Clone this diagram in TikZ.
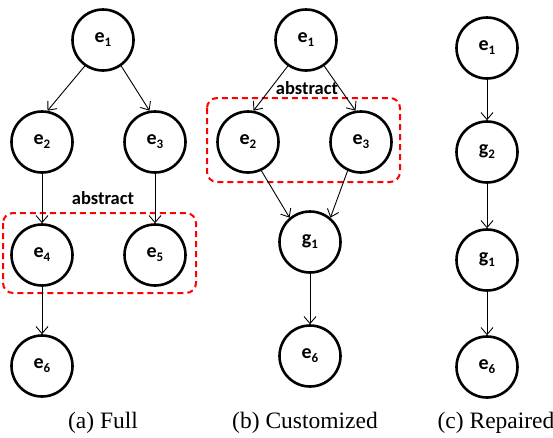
\documentclass[tikz,border=0pt]{standalone}
\usepackage{fontspec}
\setmainfont{Liberation Serif}
\newfontfamily\carl{Carlito}
\usetikzlibrary{arrows.meta}
\newcommand{\lab}[2]{#1\raisebox{-4pt}{\fontsize{13}{13}\selectfont #2}}
\tikzset{
  ev/.style={circle, draw, line width=2.6pt, minimum size=61pt, inner sep=0pt,
    font=\carl\bfseries\fontsize{20}{20}\selectfont},
  edge/.style={line width=0.9pt, -{Straight Barb[length=7pt,width=12pt,line width=0.9pt]}},
  absbox/.style={draw=red, line width=2pt, dash pattern=on 6pt off 4pt, rounded corners=10pt},
  abslabel/.style={font=\carl\bfseries\fontsize{18.5}{18.5}\selectfont},
  captext/.style={font=\fontsize{23.5}{23.5}\selectfont}
}
\begin{document}
\begin{tikzpicture}[x=1pt,y=-1pt]
\useasboundingbox (0,0) rectangle (553,437);
% panel (a)
\draw[absbox] (3,213) rectangle (196,293);
\node[abslabel] (aabs) at (103,198) {abstract};
\node[ev] (a1) at (103,40) {\lab{e}{1}};
\node[ev] (a2) at (42,142) {\lab{e}{2}};
\node[ev] (a3) at (155,142) {\lab{e}{3}};
\node[ev] (a4) at (42,255) {\lab{e}{4}};
\node[ev] (a5) at (155,255) {\lab{e}{5}};
\node[ev] (a6) at (42,366) {\lab{e}{6}};
\draw[edge] (a1.235) -- (a2.80);
\draw[edge] (a1.305) -- (a3.100);
\draw[edge] (a2.south) -- (a4.north);
\draw[edge] (a3.south) -- (a5.north);
\draw[edge] (a4.south) -- (a6.north);
\node[captext] (capa) at (103,423) {(a) Full};
% panel (b)
\draw[absbox] (207,98) rectangle (400,182);
\node[abslabel] (babs) at (307,88) {abstract};
\node[ev] (b1) at (306,40) {\lab{e}{1}};
\node[ev] (b2) at (248,142) {\lab{e}{2}};
\node[ev] (b3) at (361,142) {\lab{e}{3}};
\node[ev] (b4) at (310,242) {\lab{g}{1}};
\node[ev] (b6) at (310,356) {\lab{e}{6}};
\draw[edge] (b1.235) -- (b2.80);
\draw[edge] (b1.305) -- (b3.100);
\draw[edge] (b2.295) -- (b4.130);
\draw[edge] (b3.245) -- (b4.50);
\draw[edge] (b4.south) -- (b6.north);
\node[captext] (capb) at (305,423) {(b) Customized};
% panel (c)
\node[ev] (c1) at (487,48) {\lab{e}{1}};
\node[ev] (c2) at (487,152) {\lab{g}{2}};
\node[ev] (c3) at (487,260) {\lab{g}{1}};
\node[ev] (c6) at (487,367) {\lab{e}{6}};
\draw[edge] (c1.south) -- (c2.north);
\draw[edge] (c2.south) -- (c3.north);
\draw[edge] (c3.south) -- (c6.north);
\node[captext] (capc) at (496,423) {(c) Repaired};
\end{tikzpicture}
\end{document}
